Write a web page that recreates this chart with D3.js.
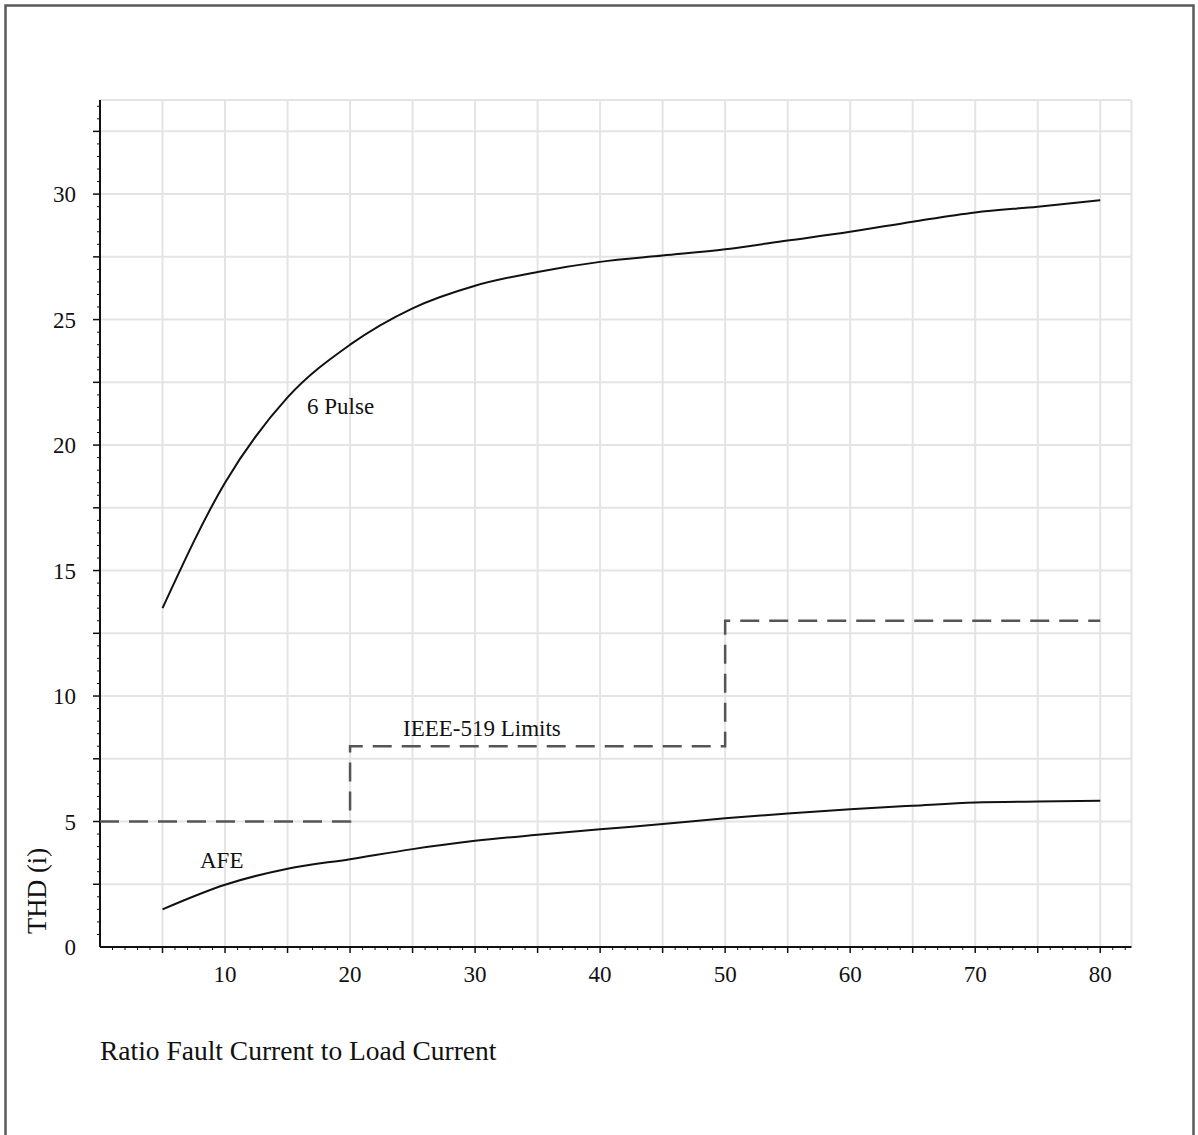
<!DOCTYPE html>
<html lang="en">
    <head>
        <meta charset="utf-8">
        <title>THD vs Fault Ratio</title>
        <script type="text/javascript" src="https://cdn.jsdelivr.net/npm/d3@7"></script>
        <style>
            body { margin: 0; background: #fff; }
            text { font-family: "Liberation Serif", "Times New Roman", serif; fill: #111; }
        </style>
    </head>
    <body>
        <script type="text/javascript">
            // Data
            var ratio = [5, 10, 15, 20, 25, 30, 35, 40, 45, 50, 55, 60, 65, 70, 75, 80];
            var pulse6 = [13.5, 18.5, 21.9, 24.0, 25.45, 26.35, 26.9, 27.3, 27.55, 27.8, 28.15, 28.5, 28.9, 29.27, 29.5, 29.76];
            var afe = [1.5, 2.48, 3.12, 3.5, 3.9, 4.23, 4.47, 4.69, 4.9, 5.13, 5.32, 5.49, 5.63, 5.76, 5.8, 5.83];
            var ieeeX = [0, 20, 50, 80];
            var ieeeY = [5, 8, 13, 13];
            var xTickLabels = [10, 20, 30, 40, 50, 60, 70, 80];
            var yTickLabels = [0, 5, 10, 15, 20, 25, 30];

            var w = 1198;
            var h = 1135;

            var svg = d3.select("body")
                        .append("svg")
                        .attr("width", w)
                        .attr("height", h);

            // Outer frame
            svg.append("rect")
                .attr("x", 5.5).attr("y", 5.5)
                .attr("width", 1188).attr("height", 1200)
                .attr("fill", "none")
                .attr("stroke", "#5a5a5a")
                .attr("stroke-width", 2.5);

            var xScale = d3.scaleLinear().domain([0, 82.5]).range([100, 1131.5]);
            var yScale = d3.scaleLinear().domain([0, 33.75]).range([947, 100]);

            // Grid
            var grid = svg.append("g").attr("stroke", "#e4e4e4").attr("stroke-width", 2);
            grid.selectAll("line.v")
                .data(d3.range(5, 85, 5).concat([82.5]))
                .enter().append("line")
                .attr("x1", function(d) { return xScale(d); })
                .attr("x2", function(d) { return xScale(d); })
                .attr("y1", yScale(0))
                .attr("y2", yScale(33.75));
            grid.selectAll("line.h")
                .data(d3.range(2.5, 35, 2.5).concat([33.75]))
                .enter().append("line")
                .attr("x1", xScale(0))
                .attr("x2", xScale(82.5))
                .attr("y1", function(d) { return yScale(d); })
                .attr("y2", function(d) { return yScale(d); });

            // Axes
            var axes = svg.append("g").attr("stroke", "#111");
            // minor ticks
            axes.selectAll("line.xm")
                .data(d3.range(1, 83, 1))
                .enter().append("line")
                .attr("x1", function(d) { return xScale(d); })
                .attr("x2", function(d) { return xScale(d); })
                .attr("y1", yScale(0))
                .attr("y2", function(d) { return yScale(0) + (d % 5 === 0 ? 6 : 3); })
                .attr("stroke-width", function(d) { return d % 5 === 0 ? 1.5 : 1; });
            axes.selectAll("line.ym")
                .data(d3.range(0.5, 33.75, 0.5))
                .enter().append("line")
                .attr("y1", function(d) { return yScale(d); })
                .attr("y2", function(d) { return yScale(d); })
                .attr("x1", xScale(0))
                .attr("x2", function(d) { return xScale(0) - (d % 2.5 === 0 ? 7 : 3); })
                .attr("stroke-width", function(d) { return d % 2.5 === 0 ? 1.5 : 1; });
            axes.append("line")
                .attr("x1", xScale(0)).attr("x2", xScale(82.5))
                .attr("y1", yScale(0)).attr("y2", yScale(0))
                .attr("stroke-width", 2);
            axes.append("line")
                .attr("x1", xScale(0)).attr("x2", xScale(0))
                .attr("y1", yScale(0)).attr("y2", yScale(33.75))
                .attr("stroke-width", 2);

            // Tick labels
            svg.selectAll("text.xt")
                .data(xTickLabels)
                .enter().append("text")
                .attr("x", function(d) { return xScale(d); })
                .attr("y", 982)
                .attr("text-anchor", "middle")
                .attr("font-size", 23)
                .text(function(d) { return d; });
            svg.selectAll("text.yt")
                .data(yTickLabels)
                .enter().append("text")
                .attr("x", 76)
                .attr("y", function(d) { return yScale(d) + 8; })
                .attr("text-anchor", "end")
                .attr("font-size", 23)
                .text(function(d) { return d; });

            // Axis titles
            svg.append("text")
                .attr("transform", "translate(46,891) rotate(-90)")
                .attr("text-anchor", "middle")
                .attr("font-size", 26.5)
                .text("THD (i)");
            svg.append("text")
                .attr("x", 100)
                .attr("y", 1060)
                .attr("font-size", 27.5)
                .text("Ratio Fault Current to Load Current");

            // Curves
            var line = d3.line()
                .x(function(d) { return xScale(d[0]); })
                .y(function(d) { return yScale(d[1]); })
                .curve(d3.curveMonotoneX);

            [pulse6, afe].forEach(function(series) {
                svg.append("path")
                    .datum(d3.zip(ratio, series))
                    .attr("d", line)
                    .attr("fill", "none")
                    .attr("stroke", "#111")
                    .attr("stroke-width", 2);
            });

            // IEEE-519 step limits
            var step = d3.line()
                .x(function(d) { return xScale(d[0]); })
                .y(function(d) { return yScale(d[1]); })
                .curve(d3.curveStepAfter);
            svg.append("path")
                .datum(d3.zip(ieeeX, ieeeY))
                .attr("d", step)
                .attr("fill", "none")
                .attr("stroke", "#555")
                .attr("stroke-width", 2.5)
                .attr("stroke-dasharray", "19,10");

            // Series labels
            svg.append("text").attr("x", 307).attr("y", 414).attr("font-size", 23).text("6 Pulse");
            svg.append("text").attr("x", 403).attr("y", 736).attr("font-size", 23).text("IEEE-519 Limits");
            svg.append("text").attr("x", 200).attr("y", 868).attr("font-size", 23).text("AFE");
        </script>
    </body>
</html>
